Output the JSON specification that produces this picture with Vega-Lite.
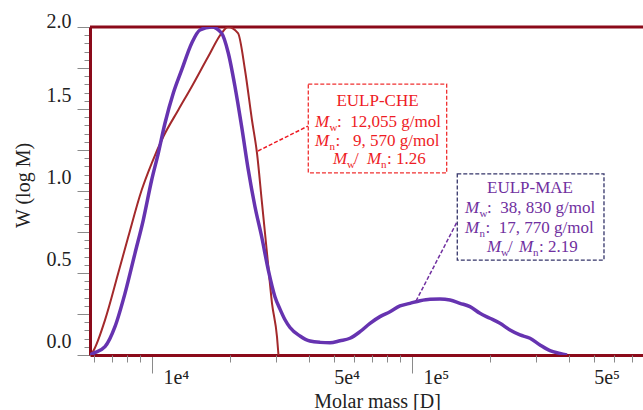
{
  "$schema": "https://vega.github.io/schema/vega-lite/v6.json",
  "width": 553,
  "height": 328,
  "autosize": {"type": "none"},
  "padding": {"left": 90, "top": 27, "right": 0, "bottom": 55},
  "background": "white",
  "config": {"view": {"stroke": null}, "font": "Liberation Serif"},
  "datasets": {
    "curves": [
      {"series": "CHE", "mass": 5776, "w": 0},
      {"series": "CHE", "mass": 5864, "w": 0.01},
      {"series": "CHE", "mass": 6596, "w": 0.213},
      {"series": "CHE", "mass": 7414, "w": 0.498},
      {"series": "CHE", "mass": 8107, "w": 0.721},
      {"series": "CHE", "mass": 9129, "w": 1.006},
      {"series": "CHE", "mass": 9973, "w": 1.169},
      {"series": "CHE", "mass": 11054, "w": 1.331},
      {"series": "CHE", "mass": 12626, "w": 1.494},
      {"series": "CHE", "mass": 14214, "w": 1.636},
      {"series": "CHE", "mass": 16423, "w": 1.817},
      {"series": "CHE", "mass": 18535, "w": 1.963},
      {"series": "CHE", "mass": 19605, "w": 2.0},
      {"series": "CHE", "mass": 21420, "w": 1.963},
      {"series": "CHE", "mass": 22790, "w": 1.738},
      {"series": "CHE", "mass": 24240, "w": 1.433},
      {"series": "CHE", "mass": 25340, "w": 1.232},
      {"series": "CHE", "mass": 26490, "w": 0.927},
      {"series": "CHE", "mass": 27690, "w": 0.622},
      {"series": "CHE", "mass": 28940, "w": 0.317},
      {"series": "CHE", "mass": 30260, "w": 0.11},
      {"series": "CHE", "mass": 30660, "w": 0},
      {"series": "MAE", "mass": 5776, "w": 0},
      {"series": "MAE", "mass": 5946, "w": 0.01},
      {"series": "MAE", "mass": 6596, "w": 0.051},
      {"series": "MAE", "mass": 7206, "w": 0.173},
      {"series": "MAE", "mass": 7875, "w": 0.376},
      {"series": "MAE", "mass": 8603, "w": 0.62},
      {"series": "MAE", "mass": 9258, "w": 0.823},
      {"series": "MAE", "mass": 9973, "w": 1.067},
      {"series": "MAE", "mass": 10572, "w": 1.23},
      {"series": "MAE", "mass": 11220, "w": 1.413},
      {"series": "MAE", "mass": 12074, "w": 1.596},
      {"series": "MAE", "mass": 13010, "w": 1.738},
      {"series": "MAE", "mass": 14214, "w": 1.901},
      {"series": "MAE", "mass": 15296, "w": 1.982},
      {"series": "MAE", "mass": 16967, "w": 2.0},
      {"series": "MAE", "mass": 18535, "w": 1.962},
      {"series": "MAE", "mass": 19665, "w": 1.84},
      {"series": "MAE", "mass": 20860, "w": 1.636},
      {"series": "MAE", "mass": 22130, "w": 1.392},
      {"series": "MAE", "mass": 23470, "w": 1.128},
      {"series": "MAE", "mass": 24900, "w": 0.904},
      {"series": "MAE", "mass": 26420, "w": 0.721},
      {"series": "MAE", "mass": 28020, "w": 0.518},
      {"series": "MAE", "mass": 29730, "w": 0.354},
      {"series": "MAE", "mass": 31070, "w": 0.28},
      {"series": "MAE", "mass": 32480, "w": 0.215},
      {"series": "MAE", "mass": 33950, "w": 0.168},
      {"series": "MAE", "mass": 37090, "w": 0.116},
      {"series": "MAE", "mass": 40520, "w": 0.085},
      {"series": "MAE", "mass": 44290, "w": 0.077},
      {"series": "MAE", "mass": 48370, "w": 0.075},
      {"series": "MAE", "mass": 52860, "w": 0.087},
      {"series": "MAE", "mass": 57740, "w": 0.102},
      {"series": "MAE", "mass": 63100, "w": 0.142},
      {"series": "MAE", "mass": 68960, "w": 0.193},
      {"series": "MAE", "mass": 75330, "w": 0.234},
      {"series": "MAE", "mass": 82300, "w": 0.264},
      {"series": "MAE", "mass": 89920, "w": 0.299},
      {"series": "MAE", "mass": 98240, "w": 0.315},
      {"series": "MAE", "mass": 107350, "w": 0.331},
      {"series": "MAE", "mass": 117270, "w": 0.34},
      {"series": "MAE", "mass": 128140, "w": 0.341},
      {"series": "MAE", "mass": 140000, "w": 0.335},
      {"series": "MAE", "mass": 152960, "w": 0.315},
      {"series": "MAE", "mass": 167120, "w": 0.295},
      {"series": "MAE", "mass": 182590, "w": 0.254},
      {"series": "MAE", "mass": 199530, "w": 0.224},
      {"series": "MAE", "mass": 218000, "w": 0.193},
      {"series": "MAE", "mass": 238200, "w": 0.152},
      {"series": "MAE", "mass": 260250, "w": 0.122},
      {"series": "MAE", "mass": 284400, "w": 0.102},
      {"series": "MAE", "mass": 310700, "w": 0.061},
      {"series": "MAE", "mass": 339500, "w": 0.026},
      {"series": "MAE", "mass": 370900, "w": 0.01},
      {"series": "MAE", "mass": 394700, "w": 0}
    ],
    "boxes": [
      {"box": "CHE", "x": 39920, "x2": 135970, "y": 1.652, "y2": 1.11},
      {"box": "MAE", "x": 149350, "x2": 547600, "y": 1.104, "y2": 0.579}
    ],
    "connectors": [
      {"box": "CHE", "x": 25570, "y": 1.244, "x2": 39810, "y2": 1.396},
      {"box": "MAE", "x": 103610, "y": 0.329, "x2": 148970, "y2": 0.811}
    ],
    "labels": [
      {"box": "CHE", "kind": "title", "text": "EULP-CHE", "x": 73660, "y": 1.518},
      {"box": "MAE", "kind": "title", "text": "EULP-MAE", "x": 284400, "y": 0.988},
      {"box": "CHE", "kind": "M", "text": "M", "x": 42360, "y": 1.392},
      {"box": "CHE", "kind": "sub", "text": "w", "x": 48160, "y": 1.392},
      {"box": "CHE", "kind": "plain", "text": ":\u00a0 12,055 g/mol", "x": 51460, "y": 1.392},
      {"box": "CHE", "kind": "M", "text": "M", "x": 42360, "y": 1.274},
      {"box": "CHE", "kind": "sub", "text": "n", "x": 48160, "y": 1.274},
      {"box": "CHE", "kind": "plain", "text": ":\u00a0\u00a0 9, 570 g/mol", "x": 50790, "y": 1.274},
      {"box": "CHE", "kind": "M", "text": "M", "x": 49680, "y": 1.165},
      {"box": "CHE", "kind": "sub", "text": "w", "x": 56230, "y": 1.165},
      {"box": "CHE", "kind": "plain", "text": "/", "x": 59830, "y": 1.165},
      {"box": "CHE", "kind": "M", "text": "M", "x": 67130, "y": 1.165},
      {"box": "CHE", "kind": "sub", "text": "n", "x": 76020, "y": 1.165},
      {"box": "CHE", "kind": "plain", "text": ": 1.26", "x": 80140, "y": 1.165},
      {"box": "MAE", "kind": "M", "text": "M", "x": 159900, "y": 0.866},
      {"box": "MAE", "kind": "sub", "text": "w", "x": 181800, "y": 0.866},
      {"box": "MAE", "kind": "plain", "text": ":\u00a0 38, 830 g/mol", "x": 194300, "y": 0.866},
      {"box": "MAE", "kind": "M", "text": "M", "x": 159900, "y": 0.744},
      {"box": "MAE", "kind": "sub", "text": "n", "x": 181800, "y": 0.744},
      {"box": "MAE", "kind": "plain", "text": ":\u00a0 17, 770 g/mol", "x": 191700, "y": 0.744},
      {"box": "MAE", "kind": "M", "text": "M", "x": 194300, "y": 0.628},
      {"box": "MAE", "kind": "sub", "text": "w", "x": 219900, "y": 0.628},
      {"box": "MAE", "kind": "plain", "text": "/", "x": 234000, "y": 0.628},
      {"box": "MAE", "kind": "M", "text": "M", "x": 257900, "y": 0.628},
      {"box": "MAE", "kind": "sub", "text": "n", "x": 292100, "y": 0.628},
      {"box": "MAE", "kind": "plain", "text": ": 2.19", "x": 307900, "y": 0.628}
    ]
  },
  "resolve": {"axis": {"x": "independent", "y": "independent"}},
  "layer": [
    {
      "data": {"values": [{"v": 2}]},
      "mark": {"type": "rule", "color": "#8B0A1A", "strokeWidth": 3},
      "encoding": {
        "y": {
          "field": "v", "type": "quantitative",
          "scale": {"domain": [0, 2], "nice": false, "zero": false},
          "axis": {
            "orient": "left",
            "values": [0,0.05,0.1,0.15,0.2,0.25,0.3,0.35,0.4,0.45,0.5,0.55,0.6,0.65,0.7,0.75,0.8,0.85,0.9,0.95,1,1.05,1.1,1.15,1.2,1.25,1.3,1.35,1.4,1.45,1.5,1.55,1.6,1.65,1.7,1.75,1.8,1.85,1.9,1.95,2],
            "ticks": true, "tickSize": 6, "tickColor": "#8a8a8a", "tickWidth": 1,
            "labels": false, "domain": false, "grid": false, "title": null
          }
        }
      }
    },
    {
      "data": {"name": "curves"},
      "transform": [{"filter": "datum.series == 'CHE'"}],
      "mark": {"type": "line", "color": "#A3292B", "strokeWidth": 2, "interpolate": "monotone", "clip": true},
      "encoding": {
        "x": {
          "field": "mass", "type": "quantitative",
          "scale": {"type": "log", "domain": [5776, 773600], "nice": false},
          "axis": {
            "orient": "bottom", "values": [10000, 100000],
            "tickSize": 18, "tickColor": "#8a8a8a", "tickWidth": 1,
            "labels": false, "domain": true, "domainColor": "#8B0A1A", "domainWidth": 3,
            "grid": false, "title": null
          }
        },
        "y": {
          "field": "w", "type": "quantitative",
          "scale": {"domain": [0, 2], "nice": false, "zero": false},
          "axis": {
            "orient": "left",
            "values": [0,0.25,0.5,0.75,1,1.25,1.5,1.75,2],
            "tickSize": 13, "tickColor": "#8a8a8a", "tickWidth": 1,
            "labels": false, "domain": true, "domainColor": "#8B0A1A", "domainWidth": 3,
            "grid": false,
            "title": "W (log M)", "titleFont": "Liberation Serif", "titleFontSize": 20,
            "titleFontWeight": "normal", "titleColor": "#222222",
            "titleX": -67, "titleY": 158, "titleAlign": "center", "titleBaseline": "middle", "titleAngle": -90
          }
        }
      }
    },
    {
      "data": {"name": "curves"},
      "transform": [{"filter": "datum.series == 'MAE'"}],
      "mark": {"type": "line", "color": "#6633B0", "strokeWidth": 3.5, "interpolate": "monotone", "clip": true},
      "encoding": {
        "x": {
          "field": "mass", "type": "quantitative",
          "scale": {"type": "log", "domain": [5776, 773600], "nice": false},
          "axis": {
            "orient": "bottom",
            "values": [6000,7000,8000,9000,20000,30000,40000,50000,60000,70000,80000,90000,200000,300000,400000,500000,600000,700000],
            "tickSize": 7, "tickColor": "#8a8a8a", "tickWidth": 1,
            "labels": false, "domain": false, "grid": false, "title": null
          }
        },
        "y": {
          "field": "w", "type": "quantitative",
          "scale": {"domain": [0, 2], "nice": false, "zero": false},
          "axis": {
            "orient": "left", "values": [0, 0.5, 1, 1.5],
            "ticks": false, "domain": false, "grid": false, "title": null,
            "labelExpr": "format(datum.value, '.1f')",
            "labelFont": "Liberation Serif", "labelFontSize": 20, "labelColor": "#222222",
            "labelPadding": 19, "labelOffset": -8, "labelBaseline": "alphabetic",
            "labelOverlap": false, "labelFlush": false, "labelBound": false
          }
        }
      }
    },
    {
      "data": {"name": "boxes"},
      "mark": {"type": "rect", "filled": false, "strokeWidth": 1.3, "strokeDash": [4, 2]},
      "encoding": {
        "x": {
          "field": "x", "type": "quantitative",
          "scale": {"type": "log", "domain": [5776, 773600], "nice": false},
          "axis": {
            "orient": "bottom", "values": [10000, 100000],
            "ticks": false, "domain": false, "grid": false, "title": null,
            "labelExpr": "datum.value < 50000 ? '1e\u2074' : '1e\u2075'",
            "labelFont": "Liberation Serif", "labelFontSize": 20, "labelColor": "#222222",
            "labelAlign": "left", "labelBaseline": "alphabetic", "labelPadding": 28, "labelOffset": 11,
            "labelOverlap": false, "labelFlush": false, "labelBound": false
          }
        },
        "x2": {"field": "x2"},
        "y": {
          "field": "y", "type": "quantitative",
          "scale": {"domain": [0, 2], "nice": false, "zero": false},
          "axis": {
            "orient": "left", "values": [2],
            "ticks": false, "domain": false, "grid": false, "title": null,
            "labelExpr": "format(datum.value, '.1f')",
            "labelFont": "Liberation Serif", "labelFontSize": 20, "labelColor": "#222222",
            "labelPadding": 19, "labelOffset": 0, "labelBaseline": "alphabetic",
            "labelOverlap": false, "labelFlush": false, "labelBound": false
          }
        },
        "y2": {"field": "y2"},
        "stroke": {"field": "box", "type": "nominal", "scale": {"domain": ["CHE", "MAE"], "range": ["#F03030", "#35356A"]}, "legend": null}
      }
    },
    {
      "data": {"name": "connectors"},
      "mark": {"type": "rule", "strokeWidth": 1.5, "strokeDash": [4, 2]},
      "encoding": {
        "x": {
          "field": "x", "type": "quantitative",
          "scale": {"type": "log", "domain": [5776, 773600], "nice": false},
          "axis": {
            "orient": "bottom", "values": [50000, 500000],
            "ticks": false, "domain": false, "grid": false,
            "labelExpr": "datum.value < 100000 ? '5e\u2074' : '5e\u2075'",
            "labelFont": "Liberation Serif", "labelFontSize": 20, "labelColor": "#222222",
            "labelAlign": "left", "labelBaseline": "alphabetic", "labelPadding": 28, "labelOffset": 0,
            "labelOverlap": false, "labelFlush": false, "labelBound": false,
            "title": "Molar mass [D]", "titleFont": "Liberation Serif", "titleFontSize": 20,
            "titleFontWeight": "normal", "titleColor": "#222222",
            "titleX": 287, "titleY": 52, "titleAlign": "center", "titleBaseline": "alphabetic"
          }
        },
        "x2": {"field": "x2"},
        "y": {"field": "y", "type": "quantitative", "scale": {"domain": [0, 2], "nice": false, "zero": false}, "axis": null},
        "y2": {"field": "y2"},
        "color": {"field": "box", "type": "nominal", "scale": {"domain": ["CHE", "MAE"], "range": ["#EE1C25", "#7030A0"]}, "legend": null}
      }
    },
    {
      "data": {"name": "labels"},
      "transform": [{"filter": "datum.kind == 'title'"}],
      "mark": {"type": "text", "align": "center", "baseline": "alphabetic", "font": "Liberation Serif", "fontSize": 17},
      "encoding": {
        "x": {"field": "x", "type": "quantitative", "scale": {"type": "log", "domain": [5776, 773600], "nice": false}, "axis": null},
        "y": {"field": "y", "type": "quantitative", "scale": {"domain": [0, 2], "nice": false, "zero": false}, "axis": null},
        "text": {"field": "text"},
        "color": {"field": "box", "type": "nominal", "scale": {"domain": ["CHE", "MAE"], "range": ["#EE1C25", "#7030A0"]}, "legend": null}
      }
    },
    {
      "data": {"name": "labels"},
      "transform": [{"filter": "datum.kind == 'M'"}],
      "mark": {"type": "text", "align": "left", "baseline": "alphabetic", "font": "Liberation Serif", "fontSize": 17, "fontStyle": "italic"},
      "encoding": {
        "x": {"field": "x", "type": "quantitative", "scale": {"type": "log", "domain": [5776, 773600], "nice": false}, "axis": null},
        "y": {"field": "y", "type": "quantitative", "scale": {"domain": [0, 2], "nice": false, "zero": false}, "axis": null},
        "text": {"field": "text"},
        "color": {"field": "box", "type": "nominal", "scale": {"domain": ["CHE", "MAE"], "range": ["#EE1C25", "#7030A0"]}, "legend": null}
      }
    },
    {
      "data": {"name": "labels"},
      "transform": [{"filter": "datum.kind == 'sub'"}],
      "mark": {"type": "text", "align": "left", "baseline": "alphabetic", "font": "Liberation Serif", "fontSize": 11, "dy": 4},
      "encoding": {
        "x": {"field": "x", "type": "quantitative", "scale": {"type": "log", "domain": [5776, 773600], "nice": false}, "axis": null},
        "y": {"field": "y", "type": "quantitative", "scale": {"domain": [0, 2], "nice": false, "zero": false}, "axis": null},
        "text": {"field": "text"},
        "color": {"field": "box", "type": "nominal", "scale": {"domain": ["CHE", "MAE"], "range": ["#EE1C25", "#7030A0"]}, "legend": null}
      }
    },
    {
      "data": {"name": "labels"},
      "transform": [{"filter": "datum.kind == 'plain'"}],
      "mark": {"type": "text", "align": "left", "baseline": "alphabetic", "font": "Liberation Serif", "fontSize": 17},
      "encoding": {
        "x": {"field": "x", "type": "quantitative", "scale": {"type": "log", "domain": [5776, 773600], "nice": false}, "axis": null},
        "y": {"field": "y", "type": "quantitative", "scale": {"domain": [0, 2], "nice": false, "zero": false}, "axis": null},
        "text": {"field": "text"},
        "color": {"field": "box", "type": "nominal", "scale": {"domain": ["CHE", "MAE"], "range": ["#EE1C25", "#7030A0"]}, "legend": null}
      }
    }
  ]
}
